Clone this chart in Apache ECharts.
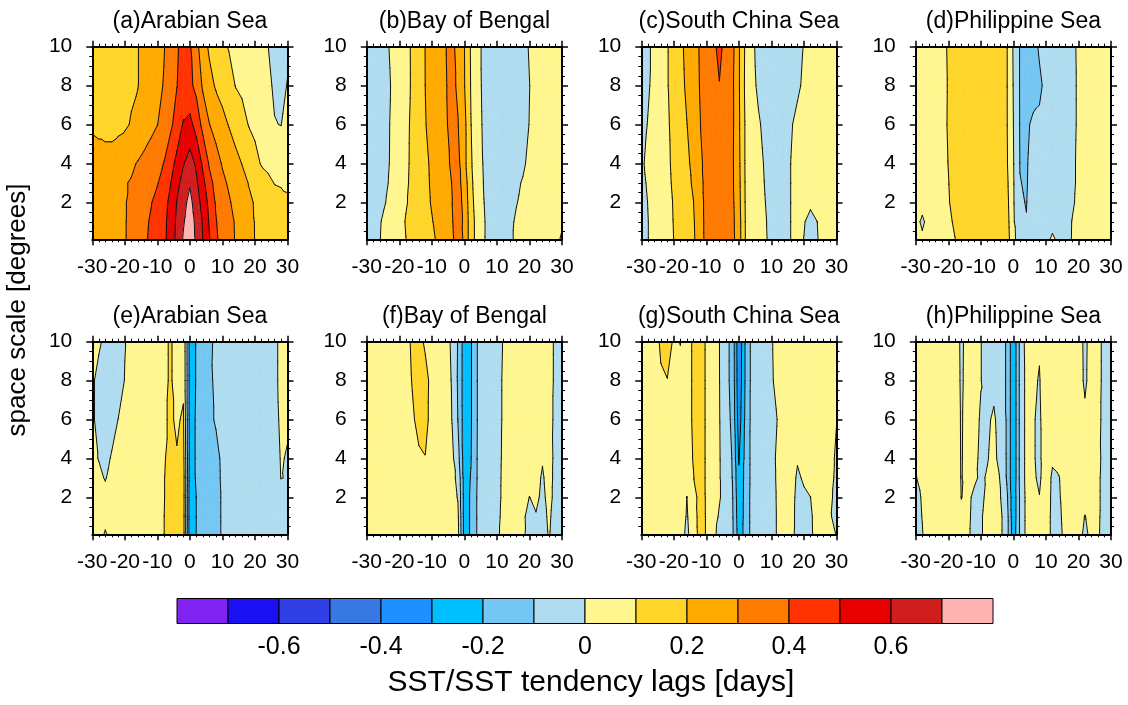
<!DOCTYPE html>
<html>
<head>
<meta charset="utf-8">
<script src="https://cdn.jsdelivr.net/npm/echarts@6/dist/echarts.min.js"></script>
<style>
  html, body { margin: 0; padding: 0; background: #ffffff; }
  #chart { width: 1128px; height: 705px; }
</style>
</head>
<body>
<div id="chart"></div>
<script>
// Lag axis (days) and space-scale axis (degrees) of the sampled fields
const lags = [-30,-28,-26,-24,-22,-20,-18,-16,-14,-12,-10,-8,-6,-4,-2,0,2,4,6,8,10,12,14,16,18,20,22,24,26,28,30];
const spaceScale = [0.1, 1, 2, 3, 4, 6, 8, 10];

// Contour levels and fill colours (one colour per band, 16 bands)
const levels = [-0.7,-0.6,-0.5,-0.4,-0.3,-0.2,-0.1,0,0.1,0.2,0.3,0.4,0.5,0.6,0.7];
const levelColors = ['#8022f0','#1a10f2','#3040e4','#3878e2','#1e90ff','#00bfff','#74c7f2','#b0dcf0',
                     '#fff68f','#ffd52a','#ffaa00','#ff7a00','#ff3300','#e80000','#d01e1e','#ffb3b3'];
const colorbarLabels = [-0.6,-0.4,-0.2,0,0.2,0.4,0.6];

const xTicks = [-30,-20,-10,0,10,20,30];
const yMajorTicks = [2,4,6,8,10];
const yMinorTicks = [0.5,1,1.5,2.5,3,3.5,4.5,5,5.5,6.5,7,7.5,8.5,9,9.5];

const panelTitles = ['(a)Arabian Sea','(b)Bay of Bengal','(c)South China Sea','(d)Philippine Sea',
                     '(e)Arabian Sea','(f)Bay of Bengal','(g)South China Sea','(h)Philippine Sea'];

// Each field: one row per spaceScale entry (bottom to top), one value per lag
const arabianSeaUpper = [
  [0.24,0.25,0.26,0.27,0.285,0.295,0.324,0.355,0.385,0.416,0.448,0.481,0.538,0.628,0.71,0.78,0.677,0.598,0.505,0.414,0.369,0.331,0.295,0.263,0.231,0.198,0.185,0.172,0.16,0.145,0.13],
  [0.24,0.25,0.26,0.27,0.28,0.295,0.32,0.35,0.38,0.41,0.445,0.48,0.53,0.62,0.69,0.76,0.67,0.59,0.49,0.405,0.365,0.33,0.292,0.26,0.23,0.197,0.185,0.172,0.16,0.148,0.135],
  [0.24,0.25,0.26,0.27,0.28,0.295,0.316,0.342,0.368,0.394,0.43,0.47,0.52,0.603,0.669,0.73,0.646,0.564,0.471,0.39,0.35,0.31,0.276,0.244,0.213,0.195,0.18,0.16,0.14,0.125,0.11],
  [0.24,0.25,0.26,0.27,0.285,0.295,0.306,0.328,0.35,0.372,0.394,0.44,0.495,0.569,0.64,0.69,0.615,0.527,0.43,0.37,0.32,0.288,0.258,0.228,0.198,0.175,0.145,0.12,0.097,0.092,0.09],
  [0.225,0.225,0.225,0.225,0.235,0.25,0.285,0.306,0.33,0.355,0.378,0.402,0.462,0.527,0.593,0.64,0.585,0.48,0.388,0.337,0.292,0.261,0.23,0.198,0.164,0.127,0.093,0.08,0.07,0.065,0.06],
  [0.19,0.185,0.18,0.18,0.185,0.19,0.205,0.22,0.24,0.27,0.298,0.34,0.38,0.44,0.51,0.53,0.46,0.37,0.302,0.265,0.228,0.195,0.16,0.13,0.098,0.08,0.06,0.04,0.003,-0.002,0.03],
  [0.16,0.165,0.17,0.175,0.18,0.185,0.19,0.198,0.225,0.25,0.275,0.305,0.35,0.398,0.43,0.42,0.375,0.285,0.23,0.19,0.165,0.135,0.098,0.085,0.07,0.055,0.035,0.015,-0.01,-0.03,0.005],
  [0.16,0.165,0.17,0.175,0.18,0.185,0.19,0.198,0.22,0.245,0.27,0.295,0.34,0.39,0.43,0.41,0.33,0.24,0.185,0.15,0.115,0.095,0.08,0.065,0.05,0.035,0.02,0.001,-0.02,-0.03,-0.02]
];
const bayOfBengalUpper = [
  [-0.05,-0.03,-0.002,0.025,0.05,0.075,0.099,0.12,0.142,0.165,0.185,0.213,0.25,0.285,0.33,0.29,0.14,0.065,0.005,-0.025,-0.04,-0.03,-0.01,0.01,0.025,0.035,0.04,0.035,0.025,0.01,-0.005],
  [-0.05,-0.035,-0.005,0.02,0.045,0.07,0.105,0.13,0.155,0.175,0.195,0.225,0.255,0.29,0.335,0.285,0.14,0.065,0.005,-0.025,-0.04,-0.03,-0.015,0.01,0.025,0.035,0.04,0.04,0.035,0.02,0.005],
  [-0.05,-0.04,-0.03,0.003,0.03,0.06,0.093,0.12,0.15,0.177,0.207,0.238,0.27,0.295,0.335,0.275,0.13,0.055,0.001,-0.03,-0.045,-0.04,-0.025,-0.003,0.015,0.028,0.036,0.042,0.045,0.045,0.04],
  [-0.04,-0.03,-0.02,-0.007,0.017,0.05,0.086,0.12,0.15,0.18,0.212,0.24,0.27,0.299,0.33,0.26,0.12,0.05,-0.005,-0.03,-0.04,-0.04,-0.03,-0.01,0.005,0.02,0.03,0.04,0.045,0.05,0.05],
  [-0.04,-0.035,-0.025,-0.012,0.014,0.048,0.083,0.117,0.15,0.183,0.215,0.244,0.274,0.31,0.327,0.23,0.11,0.05,-0.01,-0.035,-0.045,-0.05,-0.045,-0.035,-0.01,0.015,0.03,0.04,0.045,0.05,0.05],
  [-0.04,-0.035,-0.025,-0.013,0.012,0.046,0.08,0.116,0.157,0.197,0.224,0.254,0.28,0.33,0.305,0.23,0.102,0.035,-0.015,-0.04,-0.05,-0.055,-0.05,-0.04,-0.025,0.002,0.02,0.035,0.045,0.05,0.05],
  [-0.04,-0.035,-0.028,-0.015,0.008,0.042,0.077,0.11,0.155,0.201,0.229,0.258,0.287,0.33,0.285,0.205,0.095,0.03,-0.02,-0.04,-0.05,-0.055,-0.05,-0.04,-0.025,-0.001,0.02,0.035,0.045,0.05,0.05],
  [-0.04,-0.035,-0.025,-0.01,0.015,0.046,0.077,0.111,0.157,0.202,0.232,0.262,0.292,0.33,0.27,0.202,0.09,0.026,-0.02,-0.04,-0.05,-0.055,-0.05,-0.04,-0.02,0.005,0.025,0.04,0.05,0.05,0.05]
];
const southChinaSeaUpper = [
  [-0.03,-0.002,0.023,0.049,0.075,0.101,0.129,0.157,0.186,0.25,0.33,0.355,0.365,0.355,0.33,0.24,0.098,0.068,0.04,0.01,-0.02,-0.035,-0.025,0.001,0.012,-0.001,-0.03,-0.004,0.02,0.04,0.05],
  [-0.03,-0.002,0.023,0.05,0.076,0.103,0.132,0.162,0.19,0.255,0.33,0.355,0.365,0.355,0.325,0.24,0.097,0.066,0.037,0.007,-0.02,-0.035,-0.025,0.001,0.015,0.004,-0.02,-0.001,0.025,0.04,0.05],
  [-0.03,0.001,0.026,0.053,0.079,0.105,0.137,0.168,0.198,0.26,0.33,0.355,0.365,0.355,0.32,0.23,0.094,0.063,0.032,0.002,-0.025,-0.04,-0.025,0.001,0.015,0.02,0.012,0.025,0.04,0.045,0.05],
  [-0.02,0.008,0.033,0.058,0.084,0.111,0.143,0.175,0.212,0.27,0.33,0.355,0.365,0.355,0.315,0.225,0.092,0.06,0.028,-0.003,-0.028,-0.04,-0.025,0.001,0.015,0.025,0.03,0.04,0.045,0.05,0.05],
  [-0.01,0.013,0.038,0.062,0.087,0.115,0.148,0.18,0.225,0.28,0.33,0.355,0.365,0.355,0.315,0.22,0.09,0.057,0.023,-0.007,-0.03,-0.04,-0.025,0.001,0.02,0.035,0.045,0.05,0.05,0.05,0.05],
  [-0.03,0.003,0.03,0.062,0.09,0.122,0.16,0.198,0.245,0.296,0.335,0.36,0.37,0.36,0.32,0.215,0.09,0.045,0.01,-0.02,-0.035,-0.04,-0.03,-0.005,0.015,0.03,0.04,0.045,0.05,0.05,0.05],
  [-0.045,-0.01,0.022,0.06,0.095,0.135,0.172,0.215,0.258,0.303,0.335,0.37,0.398,0.37,0.32,0.21,0.08,0.025,-0.015,-0.035,-0.045,-0.05,-0.045,-0.035,-0.01,0.01,0.025,0.035,0.045,0.05,0.05],
  [-0.03,-0.01,0.015,0.055,0.095,0.137,0.18,0.223,0.265,0.306,0.345,0.385,0.415,0.38,0.33,0.21,0.085,0.015,-0.02,-0.04,-0.05,-0.055,-0.05,-0.04,-0.02,0.003,0.02,0.035,0.045,0.05,0.05]
];
const philippineSeaUpper = [
  [0.03,0.02,0.035,0.05,0.065,0.08,0.098,0.12,0.13,0.135,0.13,0.135,0.135,0.13,0.15,0.02,-0.04,-0.055,-0.06,-0.06,-0.05,0.03,-0.04,-0.02,0.002,0.02,0.035,0.04,0.045,0.05,0.05],
  [0.035,-0.02,0.04,0.055,0.07,0.085,0.11,0.125,0.132,0.137,0.14,0.14,0.137,0.13,0.14,0.015,-0.095,-0.099,-0.08,-0.075,-0.065,-0.06,-0.05,-0.02,0.001,0.02,0.035,0.045,0.05,0.05,0.05],
  [0.04,0.04,0.05,0.06,0.075,0.095,0.12,0.13,0.135,0.14,0.14,0.14,0.137,0.13,0.13,0.01,-0.097,-0.101,-0.085,-0.078,-0.07,-0.06,-0.05,-0.03,-0.008,0.012,0.03,0.04,0.045,0.05,0.05],
  [0.04,0.05,0.06,0.07,0.085,0.098,0.12,0.13,0.135,0.14,0.14,0.14,0.135,0.125,0.12,0.008,-0.099,-0.103,-0.085,-0.08,-0.07,-0.06,-0.05,-0.035,-0.012,0.01,0.03,0.04,0.045,0.05,0.05],
  [0.04,0.05,0.06,0.07,0.085,0.101,0.12,0.13,0.135,0.14,0.14,0.14,0.135,0.125,0.11,0.005,-0.101,-0.104,-0.085,-0.08,-0.07,-0.058,-0.048,-0.033,-0.012,0.01,0.03,0.04,0.045,0.05,0.05],
  [0.04,0.05,0.06,0.07,0.085,0.104,0.12,0.13,0.135,0.14,0.14,0.14,0.135,0.125,0.105,0.0,-0.104,-0.11,-0.09,-0.085,-0.075,-0.06,-0.05,-0.035,-0.015,0.008,0.03,0.04,0.05,0.05,0.05],
  [0.04,0.05,0.06,0.07,0.085,0.103,0.12,0.13,0.135,0.14,0.14,0.14,0.135,0.125,0.105,-0.005,-0.105,-0.13,-0.125,-0.115,-0.08,-0.06,-0.05,-0.035,-0.015,0.008,0.03,0.04,0.05,0.05,0.05],
  [0.04,0.05,0.06,0.07,0.085,0.105,0.12,0.13,0.135,0.14,0.14,0.14,0.135,0.125,0.105,-0.01,-0.105,-0.13,-0.13,-0.09,-0.075,-0.06,-0.05,-0.035,-0.015,0.01,0.03,0.04,0.05,0.05,0.05]
];
const arabianSeaLower = [
  [0.04,0.035,-0.01,0.03,0.045,0.05,0.055,0.06,0.065,0.07,0.08,0.098,0.14,0.14,0.14,-0.26,-0.198,-0.15,-0.13,-0.115,-0.095,-0.08,-0.07,-0.065,-0.06,-0.055,-0.05,-0.045,-0.04,-0.03,-0.025],
  [0.04,0.035,0.03,0.035,0.045,0.05,0.055,0.06,0.065,0.07,0.08,0.098,0.14,0.14,0.14,-0.26,-0.198,-0.15,-0.13,-0.115,-0.095,-0.08,-0.07,-0.065,-0.06,-0.055,-0.05,-0.045,-0.04,-0.03,-0.025],
  [0.04,0.03,0.02,0.03,0.04,0.05,0.055,0.06,0.065,0.07,0.08,0.095,0.14,0.14,0.14,-0.26,-0.198,-0.15,-0.13,-0.115,-0.095,-0.08,-0.07,-0.065,-0.06,-0.055,-0.05,-0.045,-0.035,-0.02,-0.02],
  [0.03,0.012,-0.004,0.02,0.035,0.045,0.055,0.06,0.065,0.07,0.08,0.095,0.14,0.14,0.14,-0.25,-0.19,-0.15,-0.13,-0.115,-0.092,-0.075,-0.065,-0.055,-0.05,-0.05,-0.045,-0.04,-0.025,0.001,-0.002],
  [0.01,-0.002,-0.015,0.005,0.025,0.04,0.05,0.055,0.06,0.065,0.075,0.09,0.13,0.105,0.13,-0.24,-0.19,-0.15,-0.125,-0.115,-0.09,-0.07,-0.06,-0.05,-0.05,-0.045,-0.04,-0.035,-0.02,0.003,-0.003],
  [0.01,-0.02,-0.03,-0.02,0.001,0.02,0.035,0.045,0.055,0.065,0.075,0.09,0.11,0.09,0.11,-0.24,-0.19,-0.15,-0.11,-0.095,-0.075,-0.06,-0.05,-0.045,-0.04,-0.035,-0.03,-0.025,-0.015,0.008,0.005],
  [0.01,-0.02,-0.035,-0.04,-0.025,0.002,0.015,0.03,0.045,0.055,0.065,0.08,0.11,0.07,0.085,-0.24,-0.195,-0.16,-0.11,-0.09,-0.07,-0.055,-0.05,-0.045,-0.04,-0.04,-0.035,-0.025,-0.01,0.01,0.005],
  [0.02,0.01,-0.015,-0.03,-0.025,-0.002,0.02,0.04,0.05,0.06,0.07,0.08,0.11,0.07,0.08,-0.24,-0.195,-0.16,-0.115,-0.085,-0.06,-0.05,-0.045,-0.04,-0.04,-0.04,-0.035,-0.025,-0.01,0.01,0.005]
];
const bayOfBengalLower = [
  [0.03,0.04,0.05,0.06,0.07,0.08,0.085,0.09,0.095,0.095,0.09,0.07,0.05,0.035,0.03,-0.24,-0.19,-0.09,-0.07,-0.05,-0.01,0.015,0.025,0.02,0.005,-0.01,-0.01,-0.01,0.002,-0.012,-0.02],
  [0.03,0.04,0.05,0.06,0.07,0.08,0.085,0.09,0.095,0.095,0.09,0.07,0.05,0.035,0.02,-0.24,-0.19,-0.09,-0.07,-0.05,-0.015,0.015,0.015,0.012,0.004,-0.008,-0.002,-0.008,0.004,-0.01,-0.02],
  [0.03,0.04,0.05,0.06,0.07,0.08,0.085,0.09,0.095,0.095,0.09,0.07,0.05,0.035,-0.005,-0.24,-0.19,-0.09,-0.07,-0.05,-0.02,0.013,0.015,0.012,0.01,-0.0005,0.006,-0.006,0.008,-0.008,-0.02],
  [0.03,0.04,0.05,0.06,0.07,0.08,0.085,0.09,0.095,0.095,0.09,0.07,0.05,0.03,-0.02,-0.245,-0.195,-0.095,-0.075,-0.055,-0.022,0.013,0.017,0.015,0.015,0.01,0.008,-0.003,0.01,-0.008,-0.02],
  [0.03,0.04,0.05,0.06,0.07,0.08,0.085,0.09,0.095,0.099,0.09,0.07,0.05,0.03,-0.06,-0.25,-0.205,-0.095,-0.075,-0.055,-0.025,0.012,0.02,0.02,0.02,0.015,0.012,0.002,0.012,-0.008,-0.02],
  [0.03,0.04,0.05,0.06,0.07,0.08,0.085,0.095,0.11,0.108,0.09,0.07,0.045,0.007,-0.102,-0.25,-0.21,-0.098,-0.08,-0.06,-0.03,0.01,0.02,0.03,0.035,0.04,0.04,0.035,0.015,-0.01,-0.02],
  [0.03,0.04,0.05,0.06,0.07,0.08,0.085,0.102,0.115,0.11,0.09,0.07,0.04,-0.002,-0.11,-0.25,-0.21,-0.098,-0.08,-0.06,-0.03,0.01,0.02,0.03,0.035,0.04,0.04,0.035,0.02,-0.01,-0.02],
  [0.03,0.04,0.05,0.06,0.07,0.08,0.09,0.105,0.11,0.095,0.085,0.07,0.04,-0.01,-0.105,-0.25,-0.21,-0.098,-0.08,-0.06,-0.03,0.005,0.02,0.03,0.035,0.04,0.04,0.035,0.02,-0.01,-0.02]
];
const southChinaSeaLower = [
  [0.05,0.06,0.07,0.08,0.085,0.09,0.04,-0.02,0.05,0.13,0.095,0.01,-0.01,-0.015,-0.08,-0.25,-0.17,-0.065,-0.05,-0.04,-0.015,0.005,0.01,0.01,-0.01,-0.01,-0.005,0.01,0.015,0.008,-0.001],
  [0.05,0.06,0.07,0.08,0.085,0.09,0.07,-0.01,0.06,0.13,0.095,0.03,-0.008,-0.02,-0.085,-0.26,-0.17,-0.065,-0.05,-0.04,-0.015,0.005,0.01,0.01,-0.008,-0.008,-0.004,0.01,0.015,0.002,-0.006],
  [0.05,0.06,0.07,0.08,0.085,0.09,0.08,-0.001,0.07,0.125,0.095,0.03,0.006,-0.03,-0.09,-0.27,-0.17,-0.065,-0.05,-0.04,-0.015,0.006,0.012,0.012,-0.008,-0.005,-0.0002,0.01,0.02,0.005,-0.008],
  [0.05,0.06,0.07,0.08,0.085,0.09,0.085,0.02,0.098,0.12,0.095,0.035,0.006,-0.045,-0.102,-0.28,-0.17,-0.07,-0.05,-0.04,-0.015,0.008,0.015,0.015,-0.005,0.004,0.012,0.02,0.02,0.01,-0.007],
  [0.05,0.06,0.07,0.08,0.085,0.09,0.09,0.085,0.102,0.12,0.095,0.035,0.006,-0.05,-0.105,-0.31,-0.17,-0.07,-0.05,-0.04,-0.015,0.01,0.02,0.02,0.003,0.01,0.015,0.02,0.02,0.01,-0.005],
  [0.05,0.06,0.07,0.08,0.085,0.09,0.09,0.085,0.105,0.12,0.095,0.035,0.004,-0.06,-0.12,-0.35,-0.18,-0.07,-0.05,-0.045,-0.02,0.003,0.025,0.03,0.03,0.035,0.035,0.03,0.025,0.015,0.001],
  [0.05,0.06,0.07,0.092,0.099,0.09,0.09,0.085,0.105,0.12,0.095,0.04,0.002,-0.07,-0.13,-0.37,-0.19,-0.07,-0.055,-0.045,-0.008,0.02,0.03,0.035,0.04,0.04,0.04,0.04,0.035,0.03,0.01],
  [0.05,0.06,0.07,0.11,0.115,0.095,0.101,0.085,0.105,0.12,0.095,0.04,0.001,-0.07,-0.13,-0.38,-0.19,-0.07,-0.055,-0.045,-0.005,0.02,0.03,0.04,0.04,0.045,0.045,0.04,0.035,0.03,0.02]
];
const philippineSeaLower = [
  [-0.015,-0.002,0.02,0.04,0.05,0.045,0.03,0.015,0.006,-0.012,-0.005,0.015,0.025,0.02,-0.06,-0.26,-0.09,0.025,0.015,0.015,0.02,-0.01,-0.008,0.008,0.012,0.008,-0.005,0.006,0.004,-0.012,-0.02],
  [-0.012,0.001,0.04,0.05,0.05,0.045,0.03,0.01,0.008,-0.012,-0.005,0.015,0.025,0.02,-0.06,-0.27,-0.09,0.025,0.01,0.01,0.02,-0.01,-0.006,0.01,0.015,0.01,-0.001,0.008,0.005,-0.012,-0.02],
  [-0.01,0.003,0.04,0.05,0.05,0.045,0.03,-0.001,0.01,-0.01,-0.01,0.01,0.02,0.003,-0.08,-0.27,-0.09,0.025,0.008,0.001,0.02,-0.008,-0.004,0.015,0.02,0.015,0.01,0.01,0.005,-0.01,-0.02],
  [-0.005,0.03,0.045,0.05,0.05,0.045,0.03,-0.003,0.02,0.008,-0.008,0.005,0.02,-0.003,-0.11,-0.28,-0.08,0.03,0.006,-0.006,0.02,-0.006,-0.002,0.02,0.02,0.015,0.01,0.01,0.005,-0.01,-0.02],
  [0.005,0.035,0.045,0.05,0.05,0.045,0.03,-0.004,0.02,0.012,-0.01,-0.003,0.015,-0.02,-0.11,-0.28,-0.08,0.03,0.004,-0.008,0.025,0.005,0.015,0.025,0.02,0.015,0.01,0.01,0.006,-0.008,-0.02],
  [0.03,0.04,0.045,0.05,0.05,0.045,0.03,-0.005,0.02,0.015,-0.005,-0.01,0.01,-0.03,-0.11,-0.28,-0.08,0.03,0.004,-0.008,0.03,0.035,0.035,0.03,0.02,0.015,0.005,0.01,0.008,-0.01,-0.02],
  [0.03,0.04,0.045,0.05,0.05,0.045,0.03,-0.008,0.02,0.02,0.002,-0.03,-0.02,-0.06,-0.11,-0.28,-0.08,0.03,0.008,-0.003,0.03,0.04,0.04,0.035,0.02,0.01,-0.004,0.01,0.01,-0.01,-0.02],
  [0.03,0.04,0.045,0.05,0.05,0.045,0.03,-0.01,0.02,0.02,0.002,-0.03,-0.04,-0.06,-0.11,-0.28,-0.08,0.04,0.01,0.005,0.03,0.04,0.04,0.035,0.02,0.01,-0.005,0.01,0.01,-0.01,-0.02]
];

const panelFields = [arabianSeaUpper, bayOfBengalUpper, southChinaSeaUpper, philippineSeaUpper,
                     arabianSeaLower, bayOfBengalLower, southChinaSeaLower, philippineSeaLower];

// ---- layout ----
const fontFamily = "'Liberation Sans', Arial, Helvetica, sans-serif";
const panelLeft = [92.3, 366.8, 641.3, 915.8];
const panelTop = [46.7, 341.7];
const panelWidth = 195.2;
const panelHeight = 192.6;
const yMin = 0.1, yMax = 10;

// ---- filled contour helpers (linear interpolation on triangles) ----
function bandIndex(v) {
  let k = 0;
  while (k < levels.length && v >= levels[k]) k++;
  return k;
}
function clipPoly(poly, lvl, keepAbove) {
  const out = [];
  for (let i = 0; i < poly.length; i++) {
    const a = poly[i], b = poly[(i + 1) % poly.length];
    const ina = keepAbove ? a[2] >= lvl : a[2] <= lvl;
    const inb = keepAbove ? b[2] >= lvl : b[2] <= lvl;
    if (ina) out.push(a);
    if (ina !== inb) {
      const t = (lvl - a[2]) / (b[2] - a[2]);
      out.push([a[0] + t * (b[0] - a[0]), a[1] + t * (b[1] - a[1]), lvl]);
    }
  }
  return out;
}
function buildTriangles(field) {
  const tris = [];
  for (let j = 0; j < spaceScale.length - 1; j++) {
    for (let i = 0; i < lags.length - 1; i++) {
      const p00 = [lags[i], spaceScale[j], field[j][i]];
      const p10 = [lags[i + 1], spaceScale[j], field[j][i + 1]];
      const p01 = [lags[i], spaceScale[j + 1], field[j + 1][i]];
      const p11 = [lags[i + 1], spaceScale[j + 1], field[j + 1][i + 1]];
      // split along the diagonal whose end values agree best
      if (Math.abs(p00[2] - p11[2]) <= Math.abs(p10[2] - p01[2])) {
        tris.push([p00, p10, p11], [p00, p11, p01]);
      } else {
        tris.push([p00, p10, p01], [p10, p11, p01]);
      }
    }
  }
  return tris;
}
function fillTriangle(tri, api) {
  const vs = tri.map(p => p[2]);
  const lo = bandIndex(Math.min(...vs)), hi = bandIndex(Math.max(...vs));
  const children = [];
  for (let k = lo; k <= hi; k++) {
    let poly = tri;
    if (k > 0) poly = clipPoly(poly, levels[k - 1], true);
    if (poly.length > 2 && k < levels.length) poly = clipPoly(poly, levels[k], false);
    if (poly.length < 3) continue;
    children.push({
      type: 'polygon',
      shape: { points: poly.map(p => api.coord([p[0], p[1]])) },
      style: { fill: levelColors[k], stroke: levelColors[k], lineWidth: 0.7 }
    });
  }
  return { type: 'group', children };
}
function lineTriangle(tri, api) {
  const children = [];
  for (const lvl of levels) {
    const pts = [];
    for (let e = 0; e < 3; e++) {
      const a = tri[e], b = tri[(e + 1) % 3];
      if ((a[2] >= lvl) !== (b[2] >= lvl)) {
        const t = (lvl - a[2]) / (b[2] - a[2]);
        pts.push(api.coord([a[0] + t * (b[0] - a[0]), a[1] + t * (b[1] - a[1])]));
      }
    }
    if (pts.length === 2) {
      children.push({
        type: 'line',
        shape: { x1: pts[0][0], y1: pts[0][1], x2: pts[1][0], y2: pts[1][1] },
        style: { stroke: '#111', lineWidth: 1, lineCap: 'round' }
      });
    }
  }
  return { type: 'group', children };
}

// ---- axes ----
const labelStyle = { color: '#000', fontFamily, fontSize: 21 };
function xAxisCfg(gridIndex, position, showLabels) {
  return {
    type: 'value', gridIndex, position, min: -30, max: 30, interval: 10, z: 5,
    axisLine: { show: true, onZero: false, lineStyle: { color: '#000', width: 2 } },
    axisTick: { show: true, inside: false, length: 6, lineStyle: { color: '#000', width: 1.5 } },
    minorTick: { show: true, splitNumber: 5, length: 3, lineStyle: { color: '#000', width: 1 } },
    axisLabel: Object.assign({ show: showLabels, margin: 17, customValues: xTicks }, labelStyle),
    splitLine: { show: false }, minorSplitLine: { show: false }
  };
}
function yAxisCfg(gridIndex, position, showLabels, minor) {
  return {
    type: 'value', gridIndex, position, min: yMin, max: yMax, z: 5,
    axisLine: { show: !minor, onZero: false, lineStyle: { color: '#000', width: 2 } },
    axisTick: { show: true, inside: false, length: minor ? 3 : 6,
                customValues: minor ? yMinorTicks : yMajorTicks,
                lineStyle: { color: '#000', width: minor ? 1 : 1.5 } },
    axisLabel: Object.assign({ show: showLabels, margin: 20, customValues: yMajorTicks }, labelStyle),
    splitLine: { show: false }
  };
}

const grids = [], xAxes = [], yAxes = [], series = [], titles = [];
panelFields.forEach((field, p) => {
  const col = p % 4, row = Math.floor(p / 4);
  grids.push({ left: panelLeft[col], top: panelTop[row], width: panelWidth, height: panelHeight });
  const xi = xAxes.length;
  xAxes.push(xAxisCfg(p, 'bottom', true), xAxisCfg(p, 'top', false));
  const yi = yAxes.length;
  yAxes.push(yAxisCfg(p, 'left', true, false), yAxisCfg(p, 'left', false, true),
             yAxisCfg(p, 'right', false, false), yAxisCfg(p, 'right', false, true));
  const tris = buildTriangles(field);
  const data = tris.map(t => [(t[0][0] + t[1][0] + t[2][0]) / 3, (t[0][1] + t[1][1] + t[2][1]) / 3]);
  series.push({
    type: 'custom', xAxisIndex: xi, yAxisIndex: yi, data, encode: { x: 0, y: 1 },
    silent: true, z: 2, renderItem: (params, api) => fillTriangle(tris[params.dataIndex], api)
  }, {
    type: 'custom', xAxisIndex: xi, yAxisIndex: yi, data, encode: { x: 0, y: 1 },
    silent: true, z: 3, renderItem: (params, api) => lineTriangle(tris[params.dataIndex], api)
  });
  titles.push({
    text: panelTitles[p], left: panelLeft[col] + panelWidth / 2, top: panelTop[row] - 37,
    textAlign: 'center', padding: 0,
    textStyle: { color: '#000', fontFamily, fontSize: 23, fontWeight: 'normal' }
  });
});

// ---- colour bar ----
const cbGrid = grids.length;
grids.push({ left: 177, top: 598.5, width: 816, height: 25 });
const cbX = xAxes.length;
xAxes.push({
  type: 'value', gridIndex: cbGrid, min: -0.8, max: 0.8, interval: 0.2, z: 5,
  axisLine: { show: false }, axisTick: { show: false }, splitLine: { show: false },
  axisLabel: { show: true, margin: 11, customValues: colorbarLabels, color: '#000', fontFamily, fontSize: 25 }
});
const cbY = yAxes.length;
yAxes.push({ type: 'value', gridIndex: cbGrid, min: 0, max: 1, show: false });
series.push({
  type: 'custom', xAxisIndex: cbX, yAxisIndex: cbY, silent: true, z: 2,
  data: levelColors.map((c, k) => [k]),
  encode: { x: -1, y: -1 },
  renderItem: (params, api) => {
    const k = params.dataIndex;
    const lo = k === 0 ? -0.8 : levels[k - 1];
    const hi = k === levels.length ? 0.8 : levels[k];
    const a = api.coord([lo, 1]), b = api.coord([hi, 0]);
    return {
      type: 'rect',
      shape: { x: a[0], y: a[1], width: b[0] - a[0], height: b[1] - a[1] },
      style: { fill: levelColors[k], stroke: '#000', lineWidth: 1 }
    };
  }
});
titles.push({
  text: 'SST/SST tendency lags [days]', left: 591, top: 668, textAlign: 'center', padding: 0,
  textStyle: { color: '#000', fontFamily, fontSize: 30, fontWeight: 'normal' }
});

const chart = echarts.init(document.getElementById('chart'), null, { renderer: 'canvas' });
chart.setOption({
  animation: false,
  backgroundColor: '#ffffff',
  title: titles,
  grid: grids,
  xAxis: xAxes,
  yAxis: yAxes,
  series,
  graphic: [{
    type: 'text', x: 18, y: 310, rotation: Math.PI / 2, silent: true,
    style: { text: 'space scale [degrees]', fill: '#000', font: '26px ' + fontFamily,
             fontSize: 26, fontFamily, align: 'center', verticalAlign: 'middle',
             textAlign: 'center', textVerticalAlign: 'middle' }
  }]
});
</script>
</body>
</html>
